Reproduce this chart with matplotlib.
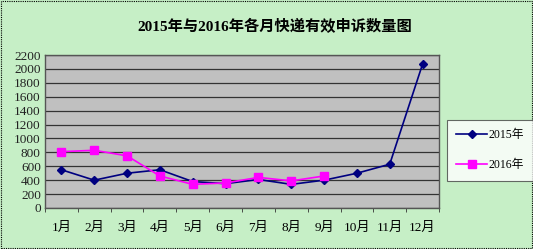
import matplotlib.pyplot as plt
import numpy as np

plt.rcParams['font.family'] = ['Liberation Serif', 'Noto Sans CJK SC', 'DejaVu Sans']

months = ['1月', '2月', '3月', '4月', '5月', '6月', '7月', '8月', '9月', '10月', '11月', '12月']
y2015 = [550, 400, 500, 550, 380, 350, 410, 340, 400, 500, 630, 2070]
y2016 = [810, 830, 750, 460, 340, 360, 440, 390, 460]
yticks = list(range(0, 2201, 200))

fig = plt.figure(figsize=(5.33, 2.49), dpi=100)
fig.patch.set_facecolor('#c6efc6')
# dashed outer border
fig.patches.append(plt.Rectangle((0.002, 0.004), 0.996, 0.992, transform=fig.transFigure,
                                 fill=False, ec='black', lw=0.8, ls=(0, (1, 1))))

ax = fig.add_axes([45 / 533, 1 - 208 / 249, 394 / 533, 153 / 249])
ax.set_facecolor('#c0c0c0')

x = np.arange(len(months))
ax.plot(x, y2015, color='#000080', marker='D', ms=4.5, lw=1.2, label='2015年')
ax.plot(x[:len(y2016)], y2016, color='#ff00ff', marker='s', ms=6, lw=1.2, label='2016年')

ax.set_xlim(-0.5, len(months) - 0.5)
ax.set_ylim(0, 2200)
ax.set_yticks(yticks)
ax.yaxis.grid(True, color='#333333', lw=0.9)
ax.set_axisbelow(True)
ax.tick_params(axis='y', length=0, labelsize=9.5, pad=3, colors='#222222')

ax.set_xticks(x)
ax.set_xticklabels(months, fontsize=9.5)
ax.set_xticks(np.arange(-0.5, len(months)), minor=True)
ax.tick_params(axis='x', which='major', length=0, pad=10)
ax.tick_params(axis='x', which='minor', length=3, direction='out', color='#333333')
for s in ax.spines.values():
    s.set_color('#555555')
    s.set_linewidth(1)

fig.text(0.515, 0.895, '2015年与2016年各月快递有效申诉数量图', ha='center', va='center',
         fontsize=11, fontweight='bold', family=['Liberation Serif', 'Noto Sans CJK SC'])

leg = fig.legend(loc='upper left', bbox_to_anchor=(447 / 533, 1 - 120 / 249), frameon=True,
                 fancybox=False, fontsize=8.5, labelspacing=1.5, handlelength=2.6,
                 borderpad=0.8, borderaxespad=0, handletextpad=0.1)
leg.get_frame().set_edgecolor('#444444')
leg.get_frame().set_linewidth(0.8)

fig.savefig('out.png', dpi=100, facecolor=fig.get_facecolor())
